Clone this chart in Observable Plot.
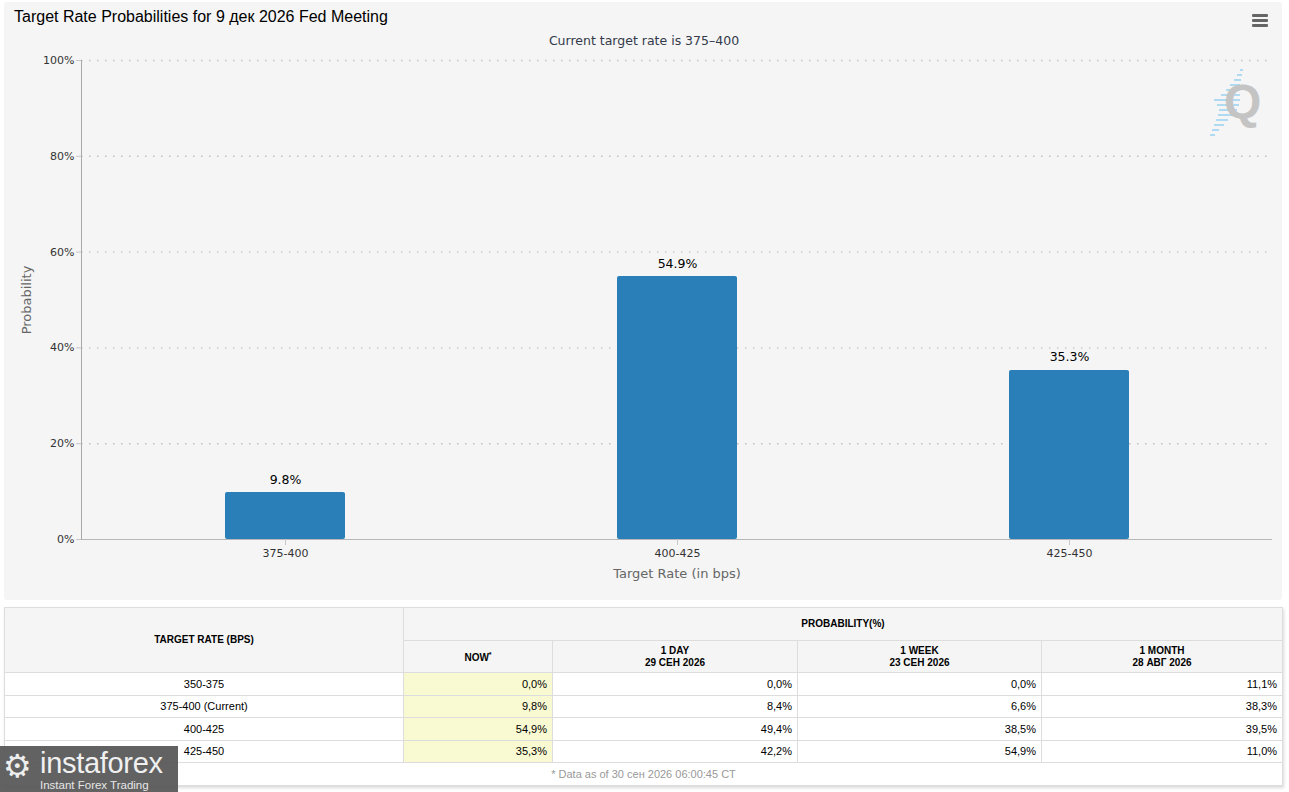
<!DOCTYPE html>
<html>
<head>
<meta charset="utf-8">
<script src="https://cdn.jsdelivr.net/npm/d3@7"></script>
<script src="https://cdn.jsdelivr.net/npm/@observablehq/plot@0.6"></script>
<style>
  html, body { margin:0; padding:0; background:#fff; width:1289px; height:792px; overflow:hidden; }
  #panel { position:absolute; left:4px; top:2px; width:1278px; height:598px; background:#f5f5f5; border-radius:3px; }
  #title { position:absolute; left:10px; top:6px; font-family:"Liberation Sans", Arial, sans-serif; font-size:16px; color:#000; white-space:nowrap; }
  #subtitle { position:absolute; left:0; width:1280px; top:31px; text-align:center; font-family:"DejaVu Sans", Verdana, sans-serif; font-size:12.5px; color:#333a4a; }
  #menu { position:absolute; left:1248px; top:12px; width:16px; }
  #menu div { height:2.5px; background:#666; margin-bottom:2.5px; border-radius:1px; }
  #qlogo { position:absolute; left:1220px; top:76px; font-family:"Liberation Sans", Arial, sans-serif; font-weight:bold; font-size:48px; color:#c4c4c4; line-height:1; }
  #qlines { position:absolute; left:1204px; top:66px; width:40px; height:72px; }
  #chart { position:absolute; left:0; top:0; }
  table { position:absolute; left:4px; top:607px; width:1278px; border-collapse:collapse; font-family:"Liberation Sans", Arial, sans-serif; font-size:11px; color:#000; box-shadow:1px 2px 3px rgba(0,0,0,0.15); table-layout:fixed; }
  th, td { border:1px solid #dddddd; padding:0 5px; }
  th { background:#f5f5f5; font-weight:bold; font-size:10px; text-align:center; line-height:12px; }
  td { height:21.5px; }
  td.rate { text-align:center; }
  td.num { text-align:right; }
  td.now { background:#fafad2; }
  td.foot { text-align:center; color:#999; }
  #ifx { position:absolute; left:0; top:746px; width:178px; height:46px; background:rgba(85,85,85,0.92); color:#fff; font-family:"Liberation Sans", Arial, sans-serif; }
  #ifx .gear { position:absolute; left:3px; top:4px; font-family:"DejaVu Sans"; font-size:32px; line-height:1; color:#eee; }
  #ifx .name { position:absolute; left:40px; top:3px; font-size:29px; line-height:29px; letter-spacing:-0.3px; color:#f0f0f0; }
  #ifx .tag { position:absolute; left:40px; top:33px; font-size:11.5px; line-height:12px; color:#e6e6e6; }
</style>
</head>
<body>
<div id="panel">
  <div id="chart"></div>
  <div id="title">Target Rate Probabilities for 9 дек 2026 Fed Meeting</div>
  <div id="subtitle">Current target rate is 375–400</div>
  <div id="menu"><div></div><div></div><div></div></div>
  <svg id="qlines" viewBox="0 0 40 72"></svg>
  <div id="qlogo">Q</div>
</div>
<table id="tbl"></table>
<div id="ifx"><span class="gear">⚙</span><span class="name">instaforex</span><span class="tag">Instant Forex Trading</span></div>
<script>
// ---- chart data ----
const chartRates = ["375-400", "400-425", "425-450"];
const chartProbs = [9.8, 54.9, 35.3];
const yTicks = [0, 20, 40, 60, 80, 100];

// ---- table data ----
const tableRates = ["350-375", "375-400 (Current)", "400-425", "425-450"];
const nowVals = [0.0, 9.8, 54.9, 35.3];
const dayVals = [0.0, 8.4, 49.4, 42.2];
const weekVals = [0.0, 6.6, 38.5, 54.9];
const monthVals = [11.1, 38.3, 39.5, 11.0];
const colHeads = ["NOW", "1 DAY", "1 WEEK", "1 MONTH"];
const colDates = ["", "29 СЕН 2026", "23 СЕН 2026", "28 АВГ 2026"];
const footNote = "* Data as of 30 сен 2026 06:00:45 CT";

const data = chartRates.map((r, i) => ({rate: r, p: chartProbs[i]}));

const chart = Plot.plot({
  width: 1278,
  height: 598,
  marginLeft: 77,
  marginRight: 10,
  marginTop: 58,
  marginBottom: 61,
  style: {background: "transparent", fontFamily: "DejaVu Sans, Verdana, sans-serif", fontSize: "11px", color: "#333"},
  x: {domain: chartRates, range: [85, 1261], paddingInner: 0.694, paddingOuter: 0.347, label: null},
  y: {domain: [0, 100], label: null},
  marks: [
    Plot.gridY(yTicks.slice(1), {stroke: "#c4c4c4", strokeOpacity: 1, strokeWidth: 1.4, strokeDasharray: "1.5,6.5"}),
    Plot.barY(data, {x: "rate", y: "p", fill: "#2a7fb8", rx: 2}),
    Plot.ruleY([0], {stroke: "#b8b8b8"}),
    Plot.frame({anchor: "left", stroke: "#a8a8a8"}),
    Plot.axisY({ticks: yTicks, tickFormat: d => d + "%", tickSize: 5, tickPadding: 2, stroke: "#c8c8c8", fill: "#333", fontSize: 11, label: null}),
    Plot.axisX({tickSize: 6, tickPadding: 4, stroke: "#c8c8c8", fill: "#333", fontSize: 11, label: null}),
    Plot.text(data, {x: "rate", y: "p", text: d => d.p.toFixed(1) + "%", dy: -13, fontSize: 12.5, fill: "#000"}),
    Plot.text(["Probability"], {frameAnchor: "left", textAnchor: "middle", dx: -55, rotate: -90, fill: "#666", fontSize: 13}),
    Plot.text(["Target Rate (in bps)"], {frameAnchor: "bottom", textAnchor: "middle", dy: 38, fill: "#666", fontSize: 13})
  ]
});
document.getElementById("chart").appendChild(chart);

// decorative blue lines of the watermark logo
(function(){
  const s = d3.select("#qlines");
  const rows = [[32,2,3],[29,7,5],[26,12,7],[22,17,10],[18,22,14],[13,27,19],[6,32,26],[9,37,22],[11,42,18],[10,47,15],[8,52,12],[6,57,10],[4,62,7],[2,67,5]];
  rows.forEach(r => s.append("line").attr("x1", r[0]).attr("x2", r[0] + r[2]).attr("y1", r[1]).attr("y2", r[1]).attr("stroke", "#9fd3f2").attr("stroke-width", 1.6));
})();

// table
const fmt = v => v.toFixed(1).replace(".", ",") + "%";
const tbl = d3.select("#tbl");
const cg = tbl.append("colgroup");
[399, 149, 245, 244, 241].forEach(w => cg.append("col").style("width", w + "px"));
const h1 = tbl.append("tr").style("height", "33px");
h1.append("th").attr("rowspan", 2).text("TARGET RATE (BPS)");
h1.append("th").attr("colspan", 4).text("PROBABILITY(%)");
const h2 = tbl.append("tr").style("height", "32px");
colHeads.forEach((c, i) => {
  const th = h2.append("th");
  if (i === 0) { th.html(c + "<sup style='font-size:7px'>*</sup>"); }
  else { th.html(c + "<br>" + colDates[i]); }
});
tableRates.forEach((r, i) => {
  const tr = tbl.append("tr");
  tr.append("td").attr("class", "rate").text(r);
  tr.append("td").attr("class", "num now").text(fmt(nowVals[i]));
  tr.append("td").attr("class", "num").text(fmt(dayVals[i]));
  tr.append("td").attr("class", "num").text(fmt(weekVals[i]));
  tr.append("td").attr("class", "num").text(fmt(monthVals[i]));
});
const fr = tbl.append("tr");
fr.append("td").attr("colspan", 5).attr("class", "foot").text(footNote);
</script>
</body>
</html>
